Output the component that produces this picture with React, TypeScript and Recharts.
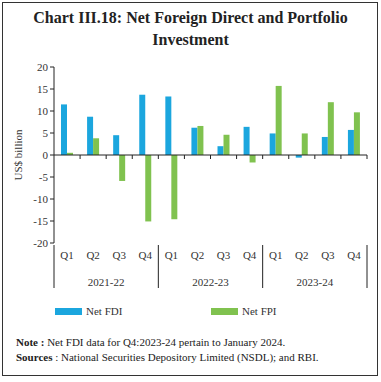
import { BarChart, Bar, XAxis, YAxis, ReferenceLine, Legend } from "recharts";

const quarters = ["Q1", "Q2", "Q3", "Q4", "Q1", "Q2", "Q3", "Q4", "Q1", "Q2", "Q3", "Q4"];
const years = ["2021-22", "2022-23", "2023-24"];
const netFdi = [11.5, 8.7, 4.5, 13.7, 13.3, 6.2, 2.0, 6.4, 4.9, -0.6, 4.1, 5.7];
const netFpi = [0.5, 3.8, -5.9, -15.1, -14.6, 6.6, 4.6, -1.7, 15.7, 4.9, 12.0, 9.7];
const yTicks = [-20, -15, -10, -5, 0, 5, 10, 15, 20];

const blue = "#1ba6de";
const green = "#80c24f";
const font = "'Liberation Serif', serif";

const data = quarters.map((q, i) => ({ q, fdi: netFdi[i], fpi: netFpi[i] }));

// zero line with small ticks at every category boundary
const ZeroLine = (props: any) => {
  const { x1, x2, y1 } = props;
  const band = (x2 - x1) / quarters.length;
  return (
    <g>
      <line x1={x1} x2={x2} y1={y1} y2={y1} stroke="#222" strokeWidth={1} />
      {quarters.map((_, i) => (
        <line key={i} x1={x1 + band * (i + 1)} x2={x1 + band * (i + 1)} y1={y1} y2={y1 + 4} stroke="#222" />
      ))}
    </g>
  );
};

// year separators and labels below the quarter labels
const YearAxis = (props: any) => {
  const { x1, x2, y1 } = props;
  const band = (x2 - x1) / quarters.length;
  return (
    <g>
      {[0, 1, 2, 3].map((k) => (
        <line key={k} x1={x1 + band * 4 * k} x2={x1 + band * 4 * k} y1={y1 + 2} y2={y1 + 45} stroke="#222" />
      ))}
      {years.map((y, k) => (
        <text key={y} x={x1 + band * (4 * k + 2)} y={y1 + 43} textAnchor="middle" fontSize={11} fontFamily={font} fill="#333">
          {y}
        </text>
      ))}
    </g>
  );
};

const renderLegend = (props: any) => {
  const items = props.payload || [];
  return (
    <div style={{ display: "flex", height: 14, alignItems: "center", fontFamily: font, fontSize: 11, color: "#333" }}>
      {items.map((it: any, i: number) => (
        <div key={it.value} style={{ display: "flex", alignItems: "center", marginLeft: i === 0 ? 55 : 0, width: i === 0 ? 156 : 120 }}>
          <span style={{ display: "inline-block", width: 27, height: 7, background: it.color, marginRight: 4 }} />
          <span>{it.value}</span>
        </div>
      ))}
    </div>
  );
};

export default function App() {
  return (
    <div style={{ position: "absolute", left: 0, top: 0, width: 381, height: 382, background: "#fff" }}>
      <div style={{ position: "absolute", left: 2, top: 2, width: 374, height: 372, border: "1.5px solid #333" }} />
      <div
        style={{
          position: "absolute",
          top: 7,
          left: 0,
          width: 381,
          textAlign: "center",
          fontFamily: font,
          fontWeight: "bold",
          fontSize: 16,
          lineHeight: "22px",
          color: "#222",
        }}
      >
        Chart III.18: Net Foreign Direct and Portfolio
        <br />
        Investment
      </div>
      <div style={{ position: "absolute", top: 55, left: 0 }}>
        <BarChart
          width={381}
          height={275}
          data={data}
          margin={{ top: 12, right: 14, left: 0, bottom: 12 }}
          barSize={6}
          barGap={0}
        >
          <XAxis
            dataKey="q"
            axisLine={false}
            tickLine={false}
            height={61}
            tick={{ fontSize: 11, fontFamily: font, fill: "#333" }}
            interval={0}
          />
          <YAxis
            domain={[-20, 20]}
            ticks={yTicks}
            width={54}
            tickSize={4}
            axisLine={{ stroke: "#222" }}
            tickLine={{ stroke: "#222" }}
            tick={{ fontSize: 11, fontFamily: font, fill: "#333" }}
            label={{ value: "US$ billion", angle: -90, position: "insideLeft", offset: 18, style: { fontSize: 11, fontFamily: font, fill: "#333", textAnchor: "middle" } }}
          />
          <Legend verticalAlign="bottom" content={renderLegend} />
          <ReferenceLine y={-20} shape={YearAxis} />
          <Bar dataKey="fdi" name="Net FDI" fill={blue} isAnimationActive={false} />
          <Bar dataKey="fpi" name="Net FPI" fill={green} isAnimationActive={false} />
          <ReferenceLine y={0} shape={ZeroLine} />
        </BarChart>
      </div>
      <div style={{ position: "absolute", top: 335, left: 16, fontFamily: font, fontSize: 11, lineHeight: "15px", color: "#222" }}>
        <div>
          <b>Note :</b> Net FDI data for Q4:2023-24 pertain to January 2024.
        </div>
        <div>
          <b>Sources</b> : National Securities Depository Limited (NSDL); and RBI.
        </div>
      </div>
    </div>
  );
}
